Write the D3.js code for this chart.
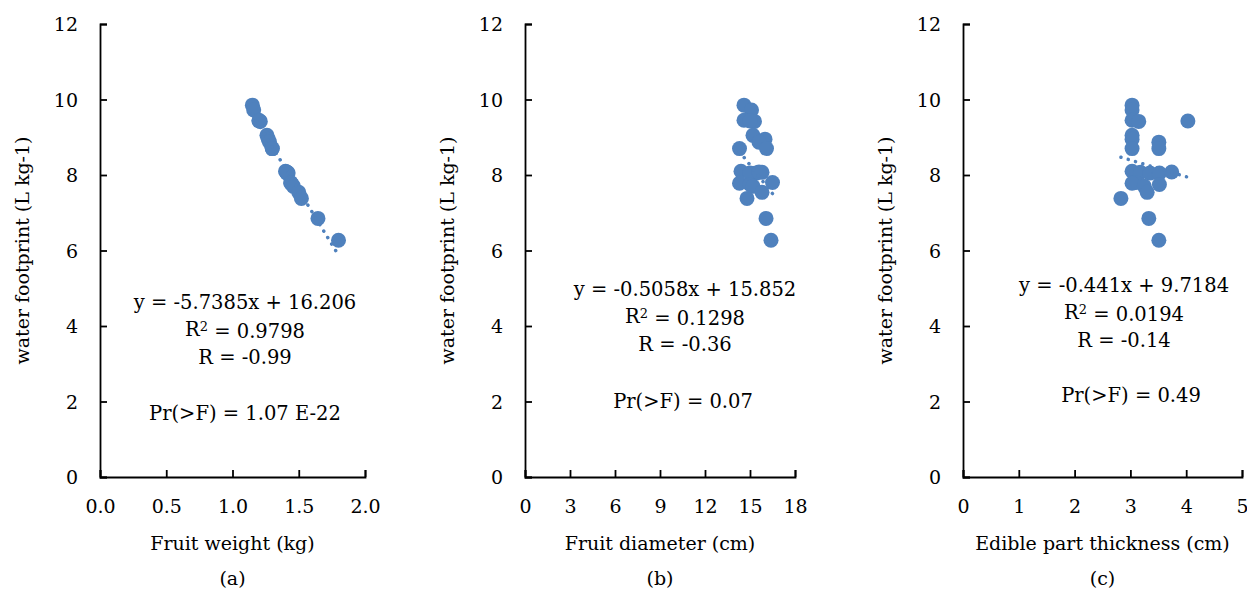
<!DOCTYPE html>
<html>
<head>
<meta charset="utf-8">
<script src="https://cdn.jsdelivr.net/npm/d3@7"></script>
<style>
  body { margin: 0; background: #fff; }
  text { font-family: "DejaVu Serif", serif; fill: #000; }
</style>
</head>
<body>
<div id="chart"></div>
<script>
// water footprint (L kg-1), one value per fruit
var waterFootprint = [9.85, 9.72, 9.45, 9.42, 9.43, 9.05, 8.95, 8.87, 8.7, 8.7, 8.1, 8.07, 8.05, 8.05, 8.08, 7.8, 7.78, 7.75, 7.7, 7.54, 7.38, 6.85, 6.27];
var fruitWeight = [1.15, 1.16, 1.2, 1.21, 1.2, 1.26, 1.27, 1.28, 1.3, 1.3, 1.4, 1.41, 1.41, 1.42, 1.41, 1.44, 1.44, 1.45, 1.46, 1.5, 1.52, 1.645, 1.8];
var fruitDiameter = [14.6, 15.1, 14.6, 15.3, 15.0, 15.2, 16.0, 15.6, 14.3, 16.1, 14.4, 15.8, 15.4, 15.0, 15.6, 16.5, 14.3, 15.0, 15.2, 15.8, 14.8, 16.07, 16.4];
var edibleThickness = [3.03, 3.03, 3.03, 3.15, 4.03, 3.03, 3.03, 3.51, 3.03, 3.51, 3.03, 3.18, 3.35, 3.52, 3.74, 3.1, 3.03, 3.52, 3.25, 3.3, 2.83, 3.33, 3.51];

var xTitles = ["Fruit weight (kg)", "Fruit diameter (cm)", "Edible part thickness (cm)"];
var panelLetters = ["(a)", "(b)", "(c)"];
var xTicks = [[0, 0.5, 1.0, 1.5, 2.0], [0, 3, 6, 9, 12, 15, 18], [0, 1, 2, 3, 4, 5]];
var yTicks = [0, 2, 4, 6, 8, 10, 12];
// trendline slope / intercept as printed
var slopes = [-5.7385, -0.5058, -0.441];
var intercepts = [16.206, 15.852, 9.7184];
var eqLabels = ["y = -5.7385x + 16.206", "y = -0.5058x + 15.852", "y = -0.441x + 9.7184"];
var r2Labels = ["0.9798", "0.1298", "0.0194"];
var rLabels = ["R = -0.99", "R = -0.36", "R = -0.14"];
var prLabels = ["Pr(>F) = 1.07 E-22", "Pr(>F) = 0.07", "Pr(>F) = 0.49"];

var W = 1247, H = 591;
var blue = "#4f81bd";

var svg = d3.select("#chart")
  .append("svg")
  .attr("width", W)
  .attr("height", H);

// panel boxes in page pixels
var panels = [
  { left: 100, right: 365, xFmt: d3.format(".1f"), eq: [245, 302], pr: [245, 413] },
  { left: 525, right: 795, xFmt: d3.format("d"), eq: [685, 289], pr: [683, 401] },
  { left: 963, right: 1242, xFmt: d3.format("d"), eq: [1124, 285], pr: [1131, 395] }
];
var xSeries = [fruitWeight, fruitDiameter, edibleThickness];
var plotTop = 24, plotBottom = 477;

panels.forEach(function(p, i) {
  var ticks = xTicks[i];
  var x = d3.scaleLinear()
    .domain([ticks[0], ticks[ticks.length - 1]])
    .range([p.left, p.right]);
  var y = d3.scaleLinear().domain([0, 12]).range([plotBottom, plotTop]);

  var g = svg.append("g");

  // y axis
  var yAxis = g.append("g")
    .attr("transform", "translate(" + p.left + ",0)")
    .call(d3.axisLeft(y).tickValues(yTicks).tickSize(-7).tickPadding(22).tickFormat(d3.format("d")));
  // x axis
  var xAxis = g.append("g")
    .attr("transform", "translate(0," + plotBottom + ")")
    .call(d3.axisBottom(x).tickValues(ticks).tickSize(-7).tickPadding(23).tickFormat(p.xFmt));

  [yAxis, xAxis].forEach(function(a) {
    a.select(".domain").attr("stroke", "#000").attr("stroke-width", 1.8);
    a.selectAll(".tick line").attr("stroke", "#000").attr("stroke-width", 1.8);
    a.selectAll("text").style("font-size", "19px").attr("fill", "#000");
  });
  yAxis.selectAll("text").attr("dy", "0.36em");
  xAxis.selectAll("text").attr("dy", "0.71em");

  var data = waterFootprint.map(function(v, k) { return { x: xSeries[i][k], y: v }; });

  // points
  g.selectAll(".dot")
    .data(data)
    .enter()
    .append("circle")
    .attr("class", "dot")
    .attr("cx", function(d) { return x(d.x); })
    .attr("cy", function(d) { return y(d.y); })
    .attr("r", 7.5)
    .attr("fill", blue);

  // dotted linear trendline over the data range
  var ext = d3.extent(data, function(d) { return d.x; });
  var line = d3.line()
    .x(function(d) { return x(d); })
    .y(function(d) { return y(slopes[i] * d + intercepts[i]); });
  g.append("path")
    .attr("d", line(ext))
    .attr("fill", "none")
    .attr("stroke", blue)
    .attr("stroke-width", 3.5)
    .attr("stroke-linecap", "round")
    .attr("stroke-dasharray", "0.1 7.5");

  // equation labels
  var lab = g.append("g").style("font-size", "19.5px").attr("text-anchor", "middle");
  lab.append("text")
    .attr("x", p.eq[0]).attr("y", p.eq[1]).attr("dy", "0.35em")
    .text(eqLabels[i]);
  var r2 = lab.append("text")
    .attr("x", p.eq[0]).attr("y", p.eq[1] + 27).attr("dy", "0.35em");
  r2.append("tspan").text("R");
  r2.append("tspan").attr("dy", "-0.4em").style("font-size", "13px").text("2");
  r2.append("tspan").attr("dy", "0.4em").text(" = " + r2Labels[i]);
  lab.append("text")
    .attr("x", p.eq[0]).attr("y", p.eq[1] + 55).attr("dy", "0.35em")
    .text(rLabels[i]);
  lab.append("text")
    .attr("x", p.pr[0]).attr("y", p.pr[1]).attr("dy", "0.35em")
    .text(prLabels[i]);

  // axis titles
  var mid = (p.left + p.right) / 2;
  g.append("text")
    .attr("text-anchor", "middle")
    .attr("x", mid).attr("y", 543).attr("dy", "0.35em")
    .style("font-size", "19px")
    .text(xTitles[i]);
  g.append("text")
    .attr("text-anchor", "middle")
    .attr("x", mid).attr("y", 578).attr("dy", "0.35em")
    .style("font-size", "19px")
    .text(panelLetters[i]);
  g.append("text")
    .attr("text-anchor", "middle")
    .attr("transform", "translate(" + (p.left - 78) + "," + ((plotTop + plotBottom) / 2) + ") rotate(-90)")
    .attr("dy", "0.35em")
    .style("font-size", "19px")
    .text("water footprint (L kg-1)");
});
</script>
</body>
</html>
